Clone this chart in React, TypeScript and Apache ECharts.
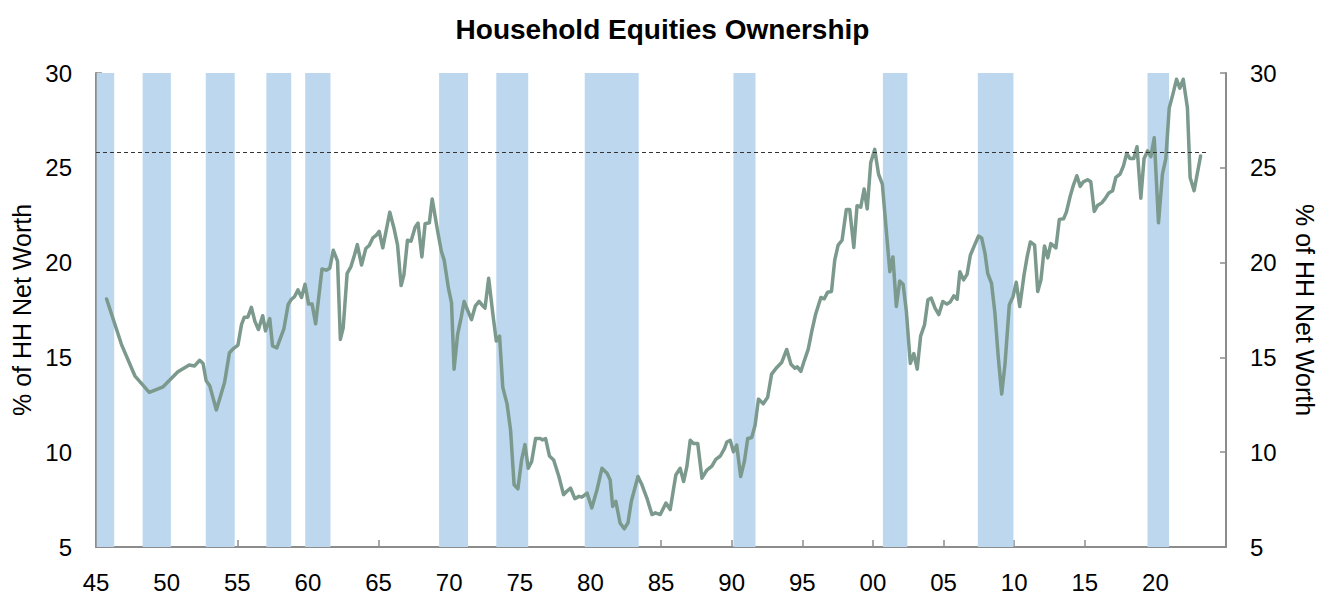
import React, { useEffect, useRef } from "react";
import * as echarts from "echarts";

// Decimal-year positions of the observations (annual to 1951, then quarterly)
const obsYears: number[] = [
  1945.75, 1946.8, 1947.75, 1948.77, 1949.75, 1950.8, 1951.6, 1951.98, 1952.34, 1952.58,
  1952.8, 1953.05, 1953.52, 1954.1, 1954.45, 1954.75, 1955.05, 1955.3, 1955.5, 1955.75,
  1956.0, 1956.25, 1956.5, 1956.8, 1957.0, 1957.3, 1957.5, 1957.8, 1958.05, 1958.3,
  1958.6, 1958.8, 1959.05, 1959.3, 1959.55, 1959.8, 1960.05, 1960.3, 1960.55, 1961.0,
  1961.3, 1961.55, 1961.8, 1962.1, 1962.3, 1962.5, 1962.78, 1963.05, 1963.3, 1963.5,
  1963.8, 1964.1, 1964.34, 1964.6, 1964.85, 1965.05, 1965.3, 1965.57, 1965.8, 1966.1,
  1966.35, 1966.6, 1966.8, 1967.05, 1967.3, 1967.6, 1967.8, 1968.07, 1968.3, 1968.6,
  1968.8, 1969.2, 1969.45, 1969.65, 1969.95, 1970.17, 1970.35, 1970.6, 1970.85, 1971.06,
  1971.3, 1971.58, 1971.85, 1972.12, 1972.35, 1972.54, 1972.8, 1973.1, 1973.34, 1973.57,
  1973.8, 1974.1, 1974.35, 1974.6, 1974.87, 1975.13, 1975.37, 1975.6, 1975.84, 1976.12,
  1976.47, 1976.6, 1976.83, 1977.1, 1977.4, 1977.77, 1978.1, 1978.35, 1978.6, 1978.9,
  1979.2, 1979.4, 1979.77, 1980.1, 1980.47, 1980.82, 1981.18, 1981.4, 1981.58, 1981.8,
  1982.1, 1982.4, 1982.66, 1982.9, 1983.37, 1983.65, 1984.0, 1984.36, 1984.6, 1984.95,
  1985.35, 1985.65, 1986.05, 1986.36, 1986.6, 1986.83, 1987.07, 1987.3, 1987.6, 1987.9,
  1988.25, 1988.6, 1988.88, 1989.2, 1989.5, 1989.66, 1989.9, 1990.13, 1990.36, 1990.64,
  1990.9, 1991.14, 1991.42, 1991.66, 1991.9, 1992.24, 1992.55, 1992.83, 1993.2, 1993.54,
  1993.9, 1994.2, 1994.48, 1994.65, 1994.9, 1995.14, 1995.42, 1995.7, 1995.94, 1996.32,
  1996.55, 1996.8, 1997.07, 1997.3, 1997.54, 1997.82, 1998.12, 1998.36, 1998.65, 1998.88,
  1999.14, 1999.38, 1999.6, 1999.85, 2000.13, 2000.4, 2000.67, 2000.9, 2001.2, 2001.42,
  2001.66, 2001.9, 2002.14, 2002.37, 2002.65, 2002.9, 2003.14, 2003.38, 2003.66, 2003.9,
  2004.13, 2004.4, 2004.67, 2004.95, 2005.24, 2005.47, 2005.73, 2005.97, 2006.16, 2006.42,
  2006.67, 2006.9, 2007.2, 2007.48, 2007.7, 2007.94, 2008.13, 2008.4, 2008.64, 2008.88,
  2009.12, 2009.36, 2009.66, 2009.92, 2010.15, 2010.4, 2010.7, 2010.92, 2011.15, 2011.45,
  2011.67, 2011.9, 2012.15, 2012.38, 2012.6, 2012.96, 2013.2, 2013.5, 2013.7, 2013.97,
  2014.2, 2014.44, 2014.68, 2014.9, 2015.2, 2015.43, 2015.67, 2015.9, 2016.2, 2016.43,
  2016.7, 2016.97, 2017.2, 2017.5, 2017.74, 2017.97, 2018.2, 2018.47, 2018.7, 2018.97,
  2019.2, 2019.45, 2019.68, 2019.92, 2020.22, 2020.5, 2020.74, 2020.98, 2021.26, 2021.5,
  2021.73, 2021.97, 2022.27, 2022.46, 2022.74, 2023.2,
];

// Household equities as % of household net worth
const equityShare: number[] = [
  18.08, 15.69, 14.03, 13.16, 13.45, 14.24, 14.6, 14.55, 14.85, 14.68,
  13.77, 13.51, 12.23, 13.68, 15.25, 15.48, 15.65, 16.73, 17.12, 17.12,
  17.64, 16.9, 16.47, 17.2, 16.4, 17.05, 15.6, 15.5, 16.0, 16.5,
  17.78, 18.04, 18.2, 18.56, 18.16, 18.86, 17.81, 17.81, 16.77, 19.66,
  19.6, 19.7, 20.65, 20.08, 15.95, 16.56, 19.43, 19.79, 20.4, 20.95,
  19.87, 20.74, 20.9, 21.3, 21.45, 21.65, 20.78, 21.79, 22.66, 21.8,
  20.92, 18.79, 19.35, 21.18, 21.13, 21.88, 22.08, 20.3, 22.05, 22.1,
  23.36, 21.6, 20.6, 20.13, 18.65, 17.87, 14.38, 16.21, 17.1, 17.95,
  17.5, 16.99, 17.7, 17.95, 17.75, 17.6, 19.17, 17.26, 15.86, 16.12,
  13.42, 12.55, 11.16, 8.28, 8.07, 9.59, 10.4, 9.15, 9.5, 10.72,
  10.72, 10.65, 10.72, 9.8, 9.59, 8.72, 7.76, 7.95, 8.1, 7.55,
  7.67, 7.63, 7.84, 7.06, 8.02, 9.15, 8.89, 8.54, 7.14, 7.41,
  6.27, 5.96, 6.27, 7.41, 8.72, 8.28, 7.58, 6.71, 6.8, 6.71,
  7.32, 6.97, 8.8, 9.15, 8.45, 9.24, 10.63, 10.46, 10.46, 8.63,
  9.06, 9.27, 9.62, 9.8, 10.2, 10.54, 10.63, 10.02, 10.37, 8.72,
  9.5, 10.72, 10.77, 11.42, 12.8, 12.55, 12.9, 14.12, 14.47, 14.73,
  15.42, 14.64, 14.43, 14.5, 14.26, 14.82, 15.42, 16.47, 17.26, 18.16,
  18.09, 18.44, 18.48, 20.13, 20.92, 21.18, 22.8, 22.8, 20.8, 23.0,
  22.92, 23.88, 22.83, 25.28, 25.97, 24.67, 24.14, 22.14, 19.52, 20.3,
  17.69, 19.03, 18.86, 17.43, 14.68, 15.2, 14.38, 16.12, 16.73, 18.04,
  18.13, 17.6, 17.26, 17.95, 17.81, 17.92, 18.25, 18.07, 19.52, 19.09,
  19.38, 20.39, 20.92, 21.4, 21.3, 20.48, 19.43, 18.9, 17.34, 14.99,
  13.07, 14.7, 17.78, 18.2, 18.96, 17.69, 19.35, 20.3, 21.09, 20.92,
  18.48, 19.09, 20.88, 20.25, 21.0, 20.78, 22.28, 22.31, 22.66, 23.5,
  24.09, 24.58, 24.02, 24.26, 24.37, 24.26, 22.7, 23.01, 23.15, 23.36,
  23.67, 23.79, 24.49, 24.67, 25.1, 25.76, 25.49, 25.49, 26.11, 23.4,
  25.49, 25.89, 25.59, 26.58, 22.1, 24.67, 25.49, 28.15, 28.94, 29.67,
  29.2, 29.67, 28.15, 24.49, 23.79, 25.62,
];

// Recession shading (decimal years)
const recessionStart: number[] = [1945.05, 1948.3, 1952.77, 1957.06, 1959.81, 1969.29, 1973.34, 1979.6, 1990.13, 2000.71, 2007.43, 2019.44];
const recessionEnd: number[] = [1946.29, 1950.3, 1954.82, 1958.82, 1961.6, 1971.34, 1975.6, 1983.42, 1991.69, 2002.44, 2009.95, 2020.97];

// Reference level (dashed line) and its span
const referenceLevel = 25.8;
const referenceSpan: number[] = [1945, 2023.8];

const xMin = 1945;
const xMax = 2025;
const yMin = 5;
const yMax = 30;

const FONT = "'Liberation Sans', Arial, Helvetica, sans-serif";
const AXIS_GREY = "#8c8c8c";

export default function App() {
  const ref = useRef<HTMLDivElement>(null);

  useEffect(() => {
    if (!ref.current) return;
    const chart = echarts.init(ref.current, undefined, { renderer: "svg" });

    const lineData = obsYears.map((y, i) => [y, equityShare[i]]);
    const bands = recessionStart.map((s, i) => [{ xAxis: s }, { xAxis: recessionEnd[i] }]);

    const yAxisCommon = {
      type: "value" as const,
      min: yMin,
      max: yMax,
      interval: 5,
      splitLine: { show: false },
      axisLine: { show: true, lineStyle: { color: AXIS_GREY, width: 2 } },
      axisTick: { show: true, inside: true, length: 6, lineStyle: { color: AXIS_GREY, width: 1.5 } },
      axisLabel: { color: "#000", fontSize: 24, fontFamily: FONT, margin: 24 },
      name: "% of HH Net Worth",
      nameLocation: "middle" as const,
      nameTextStyle: { color: "#000", fontSize: 25, fontFamily: FONT },
    };

    chart.setOption({
      animation: false,
      backgroundColor: "#fff",
      title: {
        text: "Household Equities Ownership",
        left: "center",
        top: 10,
        textStyle: { color: "#000", fontSize: 28, fontWeight: "bold", fontFamily: FONT },
      },
      grid: { left: 96, right: 96, top: 73, bottom: 43 },
      xAxis: {
        type: "value",
        min: xMin,
        max: xMax,
        interval: 5,
        splitLine: { show: false },
        axisLine: { show: true, onZero: false, lineStyle: { color: AXIS_GREY, width: 2 } },
        axisTick: { show: true, inside: true, length: 7, lineStyle: { color: AXIS_GREY, width: 1.5 } },
        axisLabel: {
          color: "#000",
          fontSize: 24,
          fontFamily: FONT,
          margin: 23,
          showMaxLabel: false,
          formatter: (v: number) => String(Math.round(v) % 100).padStart(2, "0"),
        },
      },
      yAxis: [
        { ...yAxisCommon, position: "left", nameRotate: 90, nameGap: 62 },
        { ...yAxisCommon, position: "right", nameRotate: -90, nameGap: 66 },
      ],
      series: [
        {
          type: "line",
          data: [],
          z: 1,
          silent: true,
          markArea: {
            silent: true,
            itemStyle: { color: "#bdd7ee", opacity: 1 },
            data: bands,
          },
        },
        {
          type: "line",
          data: lineData,
          z: 3,
          symbol: "none",
          silent: true,
          lineStyle: { color: "#7b998c", width: 3.5, join: "round", cap: "round" },
          markLine: {
            silent: true,
            symbol: "none",
            label: { show: false },
            lineStyle: { color: "#333", type: [4, 3], width: 1.1 },
            data: [[{ coord: [referenceSpan[0], referenceLevel] }, { coord: [referenceSpan[1], referenceLevel] }]],
          },
        },
      ],
    });

    return () => chart.dispose();
  }, []);

  return (
    <div
      ref={ref}
      style={{ position: "fixed", left: 0, top: 0, width: 1325, height: 594, background: "#fff" }}
    />
  );
}
